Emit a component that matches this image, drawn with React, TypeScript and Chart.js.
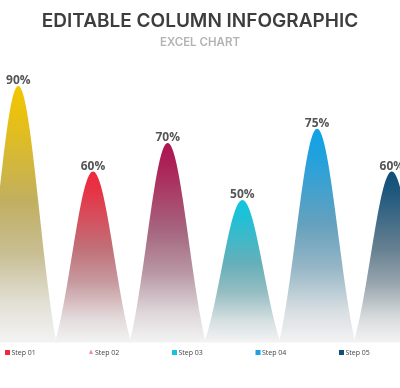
import React, { useEffect, useRef } from 'react';
import { Chart, registerables } from 'chart.js';

Chart.register(...registerables);

// ---- data ----
const categories = ['Step 00', 'Step 01', 'Step 02', 'Step 03', 'Step 04', 'Step 05'];
const values = [90, 60, 70, 50, 75, 60];
const peakColors = ['#f3c600', '#f0283c', '#ae1450', '#10c6de', '#10a2e8', '#0f4f7a'];
const legendLabels = ['Step 01', 'Step 02', 'Step 03', 'Step 04', 'Step 05'];
const legendColors = ['#ee2a3c', '#e98f9c', '#14c4dc', '#1aa0e6', '#0f4f7a'];
const titleText = 'EDITABLE COLUMN INFOGRAPHIC';
const subtitleText = 'EXCEL CHART';

function hexToRgb(h: string) {
  const n = parseInt(h.slice(1), 16);
  return [(n >> 16) & 255, (n >> 8) & 255, n & 255];
}
function mix(a: number[], g: number, t: number) {
  return `rgb(${a.map((v) => Math.round(v + (g - v) * t)).join(',')})`;
}

const bellPlugin = {
  id: 'bellShapes',
  afterDatasetsDraw(chart: any) {
    const { ctx, scales } = chart;
    const xs = scales.x;
    const meta = chart.getDatasetMeta(0);
    const hw = (xs.getPixelForValue(1) - xs.getPixelForValue(0)) / 2;
    const s = 0.55;
    const g1 = Math.exp(-1 / (2 * s * s));
    const shape = (u: number) => (Math.exp(-(u * u) / (2 * s * s)) - g1) / (1 - g1);
    meta.data.forEach((el: any, i: number) => {
      const { x, y, base } = el.getProps(['x', 'y', 'base'], true);
      const h = base - y;
      const c = hexToRgb(peakColors[i]);
      const grad = ctx.createLinearGradient(0, y, 0, base);
      grad.addColorStop(0, peakColors[i]);
      grad.addColorStop(0.12, mix(c, 150, 0.12));
      grad.addColorStop(0.45, mix(c, 160, 0.6));
      grad.addColorStop(0.65, mix(c, 188, 0.78));
      grad.addColorStop(0.85, mix(c, 225, 0.95));
      grad.addColorStop(1, '#f3f3f3');
      ctx.save();
      ctx.beginPath();
      const N = 80;
      for (let k = 0; k <= N; k++) {
        const u = -1 + (2 * k) / N;
        const px = x + u * hw * 1.02;
        const py = base - shape(Math.min(1, Math.abs(u))) * h;
        if (k === 0) ctx.moveTo(px, py);
        else ctx.lineTo(px, py);
      }
      ctx.closePath();
      ctx.fillStyle = grad;
      ctx.fill();
      ctx.restore();

      ctx.save();
      ctx.font = 'bold 12px "Open Sans", sans-serif';
      ctx.fillStyle = '#555555';
      ctx.textAlign = 'center';
      ctx.textBaseline = 'alphabetic';
      ctx.fillText(`${values[i]}%`, x, y - 2);
      ctx.restore();
    });
  },
  afterDraw(chart: any) {
    const { ctx } = chart;
    const startX = 5;
    const step = 83.5;
    const cy = 352.5;
    ctx.save();
    legendLabels.forEach((t, i) => {
      const lx = startX + i * step;
      ctx.fillStyle = legendColors[i];
      if (i === 1) {
        ctx.beginPath();
        ctx.moveTo(lx + 2.5, cy - 3);
        ctx.lineTo(lx + 4.5, cy + 1.5);
        ctx.lineTo(lx + 0.5, cy + 1.5);
        ctx.closePath();
        ctx.fill();
      } else {
        ctx.fillRect(lx, cy - 2.5, 5, 5);
      }
      ctx.font = '7px "Open Sans", sans-serif';
      ctx.fillStyle = '#444444';
      ctx.textAlign = 'left';
      ctx.textBaseline = 'middle';
      ctx.fillText(t, lx + 6.5, cy + 0.5);
    });
    ctx.restore();
  },
};

export default function App() {
  const ref = useRef<HTMLCanvasElement | null>(null);
  useEffect(() => {
    if (!ref.current) return;
    const chart = new Chart(ref.current, {
      type: 'bar',
      data: {
        labels: categories,
        datasets: [
          {
            label: 'Values',
            data: values.map((v, i) => ({ x: i, y: v })),
            backgroundColor: 'rgba(0,0,0,0)',
            borderWidth: 0,
          },
        ],
      },
      options: {
        responsive: false,
        animation: false,
        layout: { padding: { left: 0, right: 0, top: 0, bottom: 45.5 } },
        scales: {
          x: { type: 'linear', min: -0.245, max: 5.11, offset: false, display: false },
          y: { min: 0, max: 100, display: false },
        },
        plugins: {
          legend: { display: false },
          tooltip: { enabled: false },
          title: {
            display: true,
            text: titleText,
            color: '#3d3d3d',
            font: { family: 'Inter', size: 19, weight: '600' },
            padding: { top: 10, bottom: 0 },
          },
          subtitle: {
            display: true,
            text: subtitleText,
            color: '#b3b3b3',
            font: { family: 'Inter', size: 11.5, weight: '600' },
            padding: { top: 3, bottom: 7.9 },
          },
        },
      },
      plugins: [bellPlugin],
    });
    return () => chart.destroy();
  }, []);
  return (
    <div style={{ position: 'fixed', left: 0, top: 0, width: 400, height: 388, background: '#fff' }}>
      <canvas ref={ref} width={400} height={388} style={{ display: 'block' }} />
    </div>
  );
}
